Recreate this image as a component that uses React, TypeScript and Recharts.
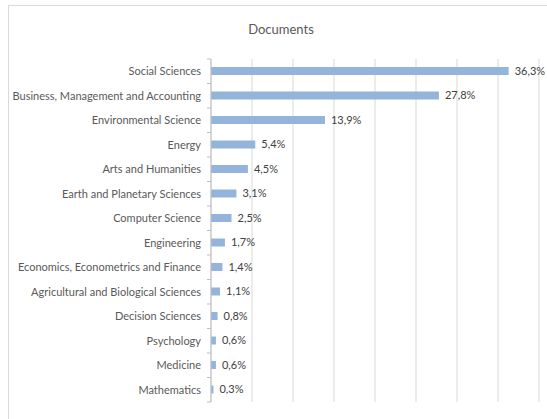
import { BarChart, Bar, XAxis, YAxis, CartesianGrid, LabelList } from 'recharts';

const categories = [
  'Social Sciences',
  'Business, Management and Accounting',
  'Environmental Science',
  'Energy',
  'Arts and Humanities',
  'Earth and Planetary Sciences',
  'Computer Science',
  'Engineering',
  'Economics, Econometrics and Finance',
  'Agricultural and Biological Sciences',
  'Decision Sciences',
  'Psychology',
  'Medicine',
  'Mathematics',
];

const shares = [36.3, 27.8, 13.9, 5.4, 4.5, 3.1, 2.5, 1.7, 1.4, 1.1, 0.8, 0.6, 0.6, 0.3];

const xTicks = [0, 5, 10, 15, 20, 25, 30, 35, 40];

const data = categories.map((name, i) => ({ name, value: shares[i] }));

const FONT = "Lato, 'Liberation Sans', sans-serif";
const W = 547;
const H = 419;
const TOP = 59;
const BOTTOM = 17;
const BAND = (H - TOP - BOTTOM) / categories.length;

const CategoryTick = (props: any) => {
  const { x, y, payload, index } = props;
  const axisX = x + 10;
  return (
    <g>
      <text x={x} y={y} dy={4} textAnchor="end" fill="#595959" fontSize={11} fontFamily={FONT}>
        {payload.value}
      </text>
      <line x1={axisX - 4} x2={axisX} y1={y - BAND / 2} y2={y - BAND / 2} stroke="#bfbfbf" />
      {index === categories.length - 1 && (
        <line x1={axisX - 4} x2={axisX} y1={y + BAND / 2} y2={y + BAND / 2} stroke="#bfbfbf" />
      )}
    </g>
  );
};

export default function App() {
  return (
    <div style={{ position: 'relative', width: W, height: H, overflow: 'hidden', background: '#fff' }}>
      <style>{'body{margin:0}'}</style>
      <div
        style={{
          position: 'absolute',
          left: 8,
          top: 5,
          width: W,
          height: H,
          border: '1px solid #d9d9d9',
          boxSizing: 'border-box',
        }}
      />
      <div
        style={{
          position: 'absolute',
          left: 0,
          top: 21,
          width: 562,
          textAlign: 'center',
          fontFamily: FONT,
          fontSize: 13,
          color: '#595959',
        }}
      >
        Documents
      </div>
      <div style={{ position: 'absolute', left: 0, top: 0 }}>
        <BarChart
          width={W}
          height={H}
          data={data}
          layout="vertical"
          margin={{ top: TOP, right: 8, bottom: BOTTOM, left: 0 }}
          barSize={8}
        >
          <CartesianGrid horizontal={false} vertical stroke="#d9d9d9" />
          <XAxis type="number" domain={[0, 40]} ticks={xTicks} hide />
          <YAxis
            type="category"
            dataKey="name"
            width={211}
            tickSize={0}
            tickMargin={10}
            axisLine={{ stroke: '#bfbfbf' }}
            tickLine={false}
            tick={<CategoryTick />}
            interval={0}
          />
          <Bar dataKey="value" fill="#94b4dc" isAnimationActive={false}>
            <LabelList
              dataKey="value"
              position="right"
              offset={6}
              fill="#404040"
              fontSize={11}
              fontFamily={FONT}
              formatter={(v: any) => `${String(v).replace('.', ',')}%`}
            />
          </Bar>
        </BarChart>
      </div>
    </div>
  );
}
